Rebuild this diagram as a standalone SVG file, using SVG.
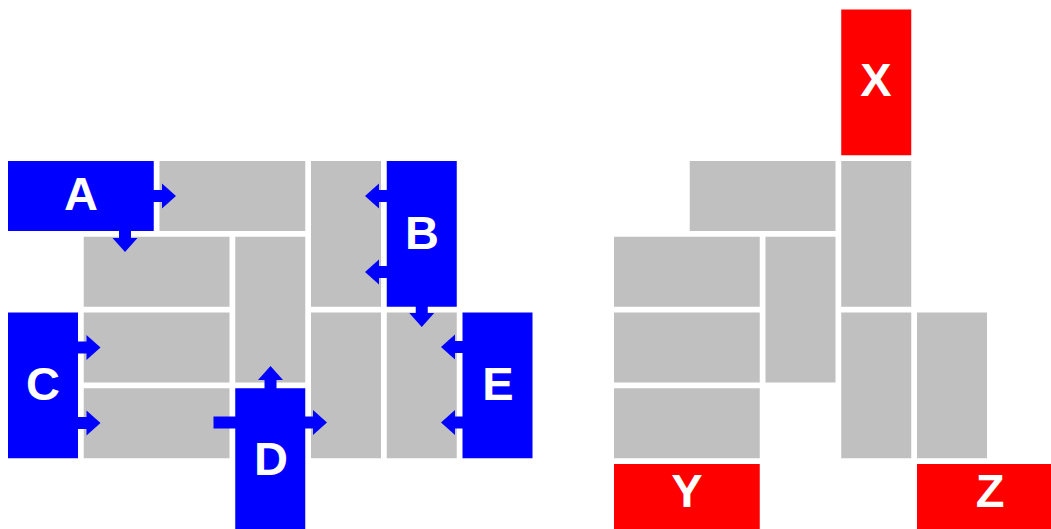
<svg xmlns="http://www.w3.org/2000/svg" width="1051" height="529" viewBox="0 0 1051 529">
<style>
.g{fill:#c0c0c0}
.b{fill:#0000ff}
.r{fill:#ff0000}
.t{fill:#fff;font-family:"Liberation Sans",Arial,sans-serif;font-weight:bold;font-size:47px;text-anchor:middle}
.a{fill:#0000ff}
</style>
<rect width="1051" height="529" fill="#fff"/>
<g id="grey-left">
<rect class="g" x="159.5" y="161" width="145.75" height="70"/>
<rect class="g" x="311" y="161" width="70" height="145.75"/>
<rect class="g" x="83.75" y="236.75" width="145.75" height="70"/>
<rect class="g" x="235.25" y="236.75" width="70" height="145.75"/>
<rect class="g" x="83.75" y="312.5" width="145.75" height="70"/>
<rect class="g" x="83.75" y="388.25" width="145.75" height="70"/>
<rect class="g" x="311" y="312.5" width="70" height="145.75"/>
<rect class="g" x="386.75" y="312.5" width="70" height="145.75"/>
</g>
<g id="grey-right">
<rect class="g" x="689.75" y="161" width="145.75" height="70"/>
<rect class="g" x="841.25" y="161" width="70" height="145.75"/>
<rect class="g" x="614" y="236.75" width="145.75" height="70"/>
<rect class="g" x="765.5" y="236.75" width="70" height="145.75"/>
<rect class="g" x="614" y="312.5" width="145.75" height="70"/>
<rect class="g" x="614" y="388.25" width="145.75" height="70"/>
<rect class="g" x="841.25" y="312.5" width="70" height="145.75"/>
<rect class="g" x="917" y="312.5" width="70" height="145.75"/>
</g>
<g id="A"><rect class="b" x="8" y="161" width="145.75" height="70"/><text class="t" x="81" y="210">A</text></g>
<g id="B"><rect class="b" x="386.75" y="161" width="70" height="145.75"/><text class="t" x="422" y="248.5">B</text></g>
<g id="C"><rect class="b" x="8" y="312.5" width="70" height="145.75"/><text class="t" x="43" y="399.5">C</text></g>
<g id="D"><rect class="b" x="235.25" y="388.25" width="70" height="145.75"/><text class="t" x="271" y="475">D</text></g>
<g id="E"><rect class="b" x="462.5" y="312.5" width="70" height="145.75"/><text class="t" x="498" y="399.5">E</text></g>
<g id="X"><rect class="r" x="841.25" y="9.5" width="70" height="145.75"/><text class="t" x="876" y="96">X</text></g>
<g id="Y"><rect class="r" x="614" y="464" width="145.75" height="70"/><text class="t" x="687" y="506.5">Y</text></g>
<g id="Z"><rect class="r" x="917" y="464" width="145.75" height="70"/><text class="t" x="990" y="506.5">Z</text></g>
<g id="connectors">
<path class="a" d="M150 190 H162 V183.5 L176 196 L162 208.5 V202 H150 Z"/>
<path class="a" d="M119 226 V238 H112.5 L125 252 L137.5 238 H131 V226 Z"/>
<path class="a" d="M391 190 H379 V183.5 L365 196 L379 208.5 V202 H391 Z"/>
<path class="a" d="M391 266 H379 V259.5 L365 272 L379 284.5 V278 H391 Z"/>
<path class="a" d="M415.75 302 V313 H409.25 L421.75 327 L434.25 313 H427.75 V302 Z"/>
<path class="a" d="M74 341.5 H86.5 V335 L100.5 347.5 L86.5 360 V353.5 H74 Z"/>
<path class="a" d="M74 417 H86.5 V410.5 L100.5 423 L86.5 435.5 V429 H74 Z"/>
<path class="a" d="M264.5 392 V380 H258 L270.5 366 L283 380 H276.5 V392 Z"/>
<path class="a" d="M301 416.5 H313 V410 L327 422.5 L313 435 V428.5 H301 Z"/>
<rect class="a" x="213.5" y="416.5" width="25" height="12"/>
<path class="a" d="M466 341 H455 V334.5 L441 347 L455 359.5 V353 H466 Z"/>
<path class="a" d="M466 416.5 H455 V410 L441 422.5 L455 435 V428.5 H466 Z"/>
</g>
</svg>
